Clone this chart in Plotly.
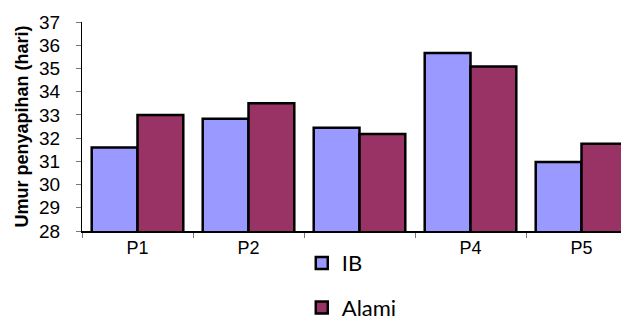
import plotly.graph_objects as go

categories = ["P1", "P2", "P3", "P4", "P5"]
shown_tick_labels = ["P1", "P2", "", "P4", "P5"]  # P3 label is hidden behind the legend in the source
ib_values = [31.6, 32.83, 32.45, 35.66, 30.97]
alami_values = [33.0, 33.5, 32.18, 35.08, 31.76]
y_ticks = list(range(28, 38))

fig = go.Figure()
fig.add_trace(go.Bar(x=categories, y=ib_values, name="IB", legendgroup="a",
                     marker=dict(color="#9999FF", line=dict(color="black", width=2.5))))
fig.add_trace(go.Bar(x=categories, y=alami_values, name="Alami", legendgroup="b",
                     marker=dict(color="#993366", line=dict(color="black", width=2.5))))

fig.update_layout(
    width=629, height=320,
    margin=dict(l=74, r=0, t=14, b=97, autoexpand=False),
    paper_bgcolor="white", plot_bgcolor="white",
    barmode="group", bargap=0.175, bargroupgap=0,
    font=dict(family="Liberation Sans", size=17, color="black"),
    showlegend=True,
    legend=dict(x=0.396, y=-0.053, xanchor="left", yanchor="top",
                font=dict(family="Lato", size=22, color="black"),
                tracegroupgap=13, bgcolor="white"),
    xaxis=dict(range=[-0.5, 4.5], showline=True, linecolor="black", linewidth=1.5,
               tickmode="array", tickvals=categories, ticktext=shown_tick_labels,
               ticks="outside", tickson="boundaries", ticklen=5, tickcolor="#777",
               tickfont=dict(size=18), showgrid=False, automargin=False),
    yaxis=dict(range=[28, 37], tickvals=y_ticks, showline=True, linecolor="black",
               linewidth=1.2, ticks="outside", ticklen=5, tickcolor="#777",
               tickfont=dict(size=19), ticklabelstandoff=12, showgrid=False, zeroline=False,
               automargin=False,
               title=dict(text="<b>Umur penyapihan (hari)</b>", font=dict(size=18), standoff=5)),
)

fig.write_html("out.html")
